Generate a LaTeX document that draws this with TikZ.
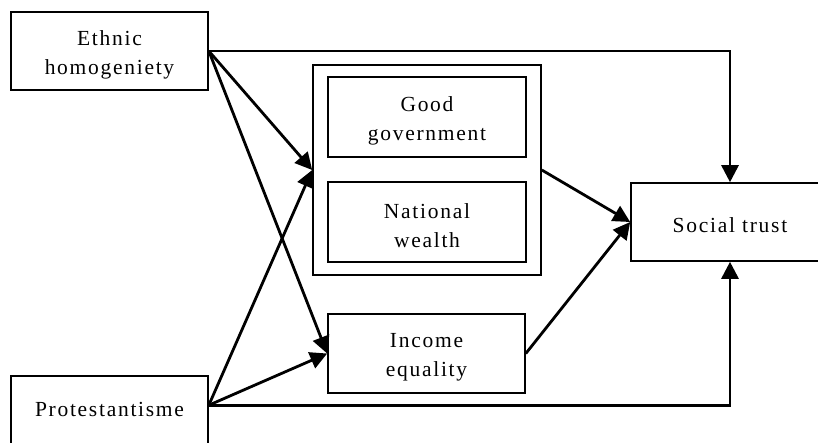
\documentclass[tikz,border=0pt]{standalone}
\usepackage{fontspec}
\setmainfont[LetterSpace=8]{Liberation Serif}
\usetikzlibrary{arrows.meta,calc}
\newcommand{\liftup}{\rule{0pt}{22pt}}
\begin{document}
\begin{tikzpicture}[x=1pt,y=-1pt,
  box/.style={draw,line width=1.6pt,rectangle,inner sep=0pt,align=center,
    font=\fontsize{21.5}{29}\selectfont},
  conn/.style={line width=2.8pt,-{Triangle[length=17pt,width=17pt]}}]
\useasboundingbox (0,0) rectangle (818,442);
\node[box,minimum width=197pt,minimum height=78pt] (eth) at (109.5,51) {\liftup Ethnic\\homogeniety};
\node[box,minimum width=197pt,minimum height=78pt] (prot) at (109.5,415) {};
\node[font=\fontsize{21.5}{29}\selectfont,inner sep=0pt] (prottext) at (109.5,409) {Protestantisme};
\node[box,minimum width=228pt,minimum height=210pt] (outer) at (427,170) {};
\node[box,minimum width=198pt,minimum height=80pt] (gov) at (427,117) {\liftup Good\\government};
\node[box,minimum width=198pt,minimum height=80pt] (wealth) at (427,222) {\liftup National\\wealth};
\node[box,minimum width=197pt,minimum height=79pt] (inc) at (426.5,353.5) {\liftup Income\\equality};
\node[box,minimum width=198pt,minimum height=78pt] (trust) at (730,222) {\liftup Social trust};
\coordinate (pe) at ($(prot.north east)+(0,30)$);
\draw[conn] (eth.east) -| (trust.north);
\draw[conn] (pe) -| (trust.south);
\draw[conn] (eth.east) -- (outer.west);
\draw[conn] (eth.east) -- (inc.west);
\draw[conn] (pe) -- (outer.west);
\draw[conn] (pe) -- (inc.west);
\draw[conn] (outer.east) -- (trust.west);
\draw[conn] (inc.east) -- (trust.west);
\end{tikzpicture}
\end{document}
